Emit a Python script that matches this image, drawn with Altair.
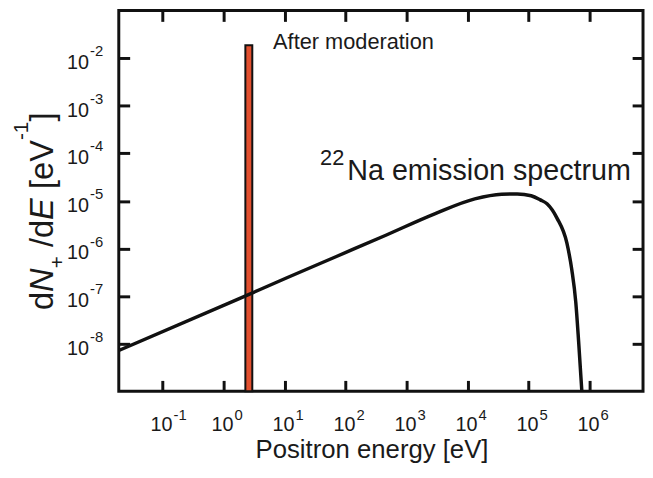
import altair as alt
import pandas as pd

# ---------------- data ----------------
# 22Na emission spectrum (energy in eV, dN+/dE in 1/eV)
energy = [0.0191, 1.69, 10.9, 70.6, 456, 2950, 1.31e4, 3.6e4, 6.5e4,
          1.10e5, 1.55e5, 2.0e5, 2.9e5, 4.24e5, 5.1e5, 5.93e5, 6.6e5, 7.45e5]
dnde = [7.2e-9, 8.5e-8, 2.43e-7, 6.8e-7, 1.9e-6, 5.4e-6, 1.1e-5, 1.38e-5, 1.40e-5,
        1.28e-5, 1.05e-5, 8.7e-6, 4.4e-6, 1.29e-6, 3.56e-7, 7.4e-8, 1.1e-8, 1.0e-9]

# moderated positrons: narrow bar
mod_e_lo = [2.27]
mod_e_hi = [2.95]
mod_base = [1e-9]
mod_top = [1.86e-2]

# tick values and exponent labels
x_ticks = [0.1, 1, 10, 100, 1e3, 1e4, 1e5, 1e6]
x_exps = ["-1", "0", "1", "2", "3", "4", "5", "6"]
y_ticks = [1e-8, 1e-7, 1e-6, 1e-5, 1e-4, 1e-3, 1e-2]
y_exps = ["-8", "-7", "-6", "-5", "-4", "-3", "-2"]

# annotations (anchored in data coordinates)
ann_mod_text = ["After moderation"]
ann_mod_e = [6.47]
ann_mod_n = [1.535e-2]
ann_na_text = ["Na emission spectrum"]
ann_na_sup = ["22"]
ann_na_e = [106.4]
ann_na_n = [2.81e-5]

x_title = "Positron energy [eV]"
# y title pieces: (text, kind)  kind: n=normal, i=italic, sub, sup, gap (a space)
y_title_pieces = [("d", "n"), ("N", "i"), ("+", "sub"), (" ", "gap"), ("/d", "n"), ("E", "i"),
                  (" ", "gap"), ("[eV", "n"), ("-1", "sup"), ("]", "n")]

# ---------------- layout / style ----------------
W, H = 530, 385
FONT = "Liberation Sans"
TXT = "#1a1a1a"
INK = "#111111"

xscale = alt.Scale(type="log", domain=[0.0191, 7.5e6], nice=False)
yscale = alt.Scale(type="log", domain=[1e-9, 1e-1], nice=False)

tick_style = dict(labels=False, domain=False, grid=False, ticks=True, tickSize=11,
                  tickWidth=3, tickColor=INK, title=None)

curve_df = pd.DataFrame({"E": energy, "N": dnde})
bar_df = pd.DataFrame({"lo": mod_e_lo, "hi": mod_e_hi, "b": mod_base, "t": mod_top})
xt_df = pd.DataFrame({"v": x_ticks, "e": x_exps})
yt_df = pd.DataFrame({"v": y_ticks, "e": y_exps})

line = alt.Chart(curve_df).mark_line(
    color=INK, strokeWidth=3.5, interpolate="monotone", clip=True
).encode(
    x=alt.X("E:Q", scale=xscale,
            axis=alt.Axis(orient="top", offset=-H, values=x_ticks, **tick_style)),
    y=alt.Y("N:Q", scale=yscale,
            axis=alt.Axis(orient="right", offset=-W, values=y_ticks, **tick_style)),
)

bar = alt.Chart(bar_df).mark_rect(
    fill="#e2502f", stroke=INK, strokeWidth=2
).encode(
    x=alt.X("lo:Q", scale=xscale,
            axis=alt.Axis(orient="bottom", offset=-H, values=x_ticks, **tick_style)),
    x2="hi:Q",
    y=alt.Y("b:Q", scale=yscale,
            axis=alt.Axis(orient="left", offset=-W, values=y_ticks, **tick_style)),
    y2="t:Q",
)

# tick labels
xl10 = alt.Chart(xt_df).mark_text(
    text="10", align="right", baseline="alphabetic", dx=10, fontSize=20, font=FONT, color=TXT
).encode(x=alt.X("v:Q", scale=xscale, axis=None), y=alt.value(425))
xlexp = alt.Chart(xt_df).mark_text(
    align="left", baseline="alphabetic", dx=11, fontSize=15, font=FONT, color=TXT
).encode(x=alt.X("v:Q", scale=xscale, axis=None), y=alt.value(414), text="e:N")

yl10 = alt.Chart(yt_df).mark_text(
    text="10", align="right", baseline="alphabetic", dy=11, fontSize=20, font=FONT, color=TXT
).encode(y=alt.Y("v:Q", scale=yscale, axis=None), x=alt.value(-30))
ylexp = alt.Chart(yt_df).mark_text(
    align="left", baseline="alphabetic", dy=-2, fontSize=15, font=FONT, color=TXT
).encode(y=alt.Y("v:Q", scale=yscale, axis=None), x=alt.value(-29), text="e:N")

# annotations
mod_df = pd.DataFrame({"E": ann_mod_e, "N": ann_mod_n, "t": ann_mod_text})
ann_mod = alt.Chart(mod_df).mark_text(
    align="left", baseline="alphabetic", fontSize=22, font=FONT, color=TXT
).encode(x=alt.X("E:Q", scale=xscale, axis=None), y=alt.Y("N:Q", scale=yscale, axis=None), text="t:N")

na_df = pd.DataFrame({"E": ann_na_e, "N": ann_na_n, "t": ann_na_text, "s": ann_na_sup})
ann_na = alt.Chart(na_df).mark_text(
    align="left", baseline="alphabetic", fontSize=29, font=FONT, color=TXT, clip=True
).encode(x=alt.X("E:Q", scale=xscale, axis=None), y=alt.Y("N:Q", scale=yscale, axis=None), text="t:N")
ann_na_sup_l = alt.Chart(na_df).mark_text(
    align="right", baseline="alphabetic", dx=-3, dy=-15, fontSize=22, font=FONT, color=TXT
).encode(x=alt.X("E:Q", scale=xscale, axis=None), y=alt.Y("N:Q", scale=yscale, axis=None), text="s:N")

# x title
xt = alt.Chart(pd.DataFrame({"t": [x_title]})).mark_text(
    align="center", baseline="alphabetic", fontSize=26, font=FONT, color=TXT
).encode(text="t:N", x=alt.value(256), y=alt.value(452))

# y title built from pieces (rotated, reading bottom to top)
ADV = {"d": 0.556, "N": 0.722, "E": 0.667, "+": 0.584, " ": 0.278, "/": 0.278,
       "[": 0.278, "]": 0.278, "e": 0.556, "V": 0.667, "-": 0.333, "1": 0.556}
MAIN, SMALL = 33, 21
kind_cfg = {
    "n": dict(size=MAIN, style="normal", bx=-67),
    "i": dict(size=MAIN, style="italic", bx=-67),
    "gap": dict(size=MAIN, style="normal", bx=-67),
    "sub": dict(size=SMALL, style="normal", bx=-55),
    "sup": dict(size=SMALL, style="normal", bx=-92),
}
lengths = [sum(ADV[c] for c in txt) * kind_cfg[k]["size"] for txt, k in y_title_pieces]
center_y = 203
pos = center_y + sum(lengths) / 2
ytitle_layers = []
one = pd.DataFrame({"k": [0]})
for (txt, k), ln in zip(y_title_pieces, lengths):
    cfg = kind_cfg[k]
    if k != "gap":
        ytitle_layers.append(
            alt.Chart(one).mark_text(
                text=txt, angle=270, align="left", baseline="alphabetic",
                fontSize=cfg["size"], fontStyle=cfg["style"], font=FONT, color=TXT
            ).encode(x=alt.value(cfg["bx"]), y=alt.value(pos))
        )
    pos -= ln

chart = alt.layer(
    bar, line, xl10, xlexp, yl10, ylexp, ann_mod, ann_na, ann_na_sup_l, xt, *ytitle_layers
).resolve_axis(
    x="independent", y="independent"
).properties(
    width=W, height=H,
    autosize=alt.AutoSizeParams(type="none"),
    padding={"left": 112, "top": 0, "right": 2, "bottom": 72},
    background="white",
).configure_view(
    stroke=INK, strokeWidth=3
)

chart.save("out.html", embed_options={"renderer": "svg", "actions": False})
